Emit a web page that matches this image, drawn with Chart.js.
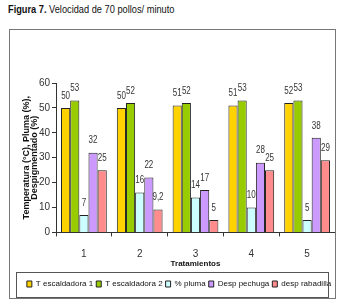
<!DOCTYPE html>
<html>
<head>
<meta charset="utf-8">
<script src="https://cdn.jsdelivr.net/npm/chart.js@4"></script>
<style>
  body { margin: 0; background: #fff; font-family: "Liberation Sans", sans-serif; }
  #title { position: absolute; left: 8px; top: 3px; font-size: 11px; color: #111; white-space: nowrap; transform: scaleX(0.84); transform-origin: left top; }
  #box { position: absolute; left: 9px; top: 29px; width: 325px; height: 268px; border: 1px solid #777; }
  #wrap { position: relative; width: 325px; height: 268px; }
</style>
</head>
<body>
<div id="title"><b>Figura 7.</b> Velocidad de 70 pollos/ minuto</div>
<div id="box"><div id="wrap"><canvas id="myChart"></canvas></div></div>
<script>
const categories = ['1', '2', '3', '4', '5'];
const seriesNames = ['T escaldadora 1', 'T escaldadora 2', '% pluma', 'Desp pechuga', 'desp rabadilla'];
const tEscaldadora1 = [50, 50, 51, 51, 52];
const tEscaldadora2 = [53, 52, 52, 53, 53];
const pluma = [7, 16, 14, 10, 5];
const despPechuga = [32, 22, 17, 28, 38];
const despRabadilla = [25, 9.2, 5, 25, 29];
const yTicks = [0, 10, 20, 30, 40, 50, 60];

const FONT = '"Liberation Sans", sans-serif';
const fills = ['#FFD200', '#99CC00', '#CCFFFF', '#CC99FF', '#FF8C8C'];

// value labels above bars (squeezed to look like a narrow face), plus the legend frame
const extras = {
    id: 'extras',
    afterDatasetsDraw(chart) {
        const ctx = chart.ctx;
        ctx.save();
        ctx.font = '10px ' + FONT;
        ctx.fillStyle = '#333';
        ctx.textAlign = 'center';
        ctx.textBaseline = 'middle';
        chart.data.datasets.forEach((ds, i) => {
            chart.getDatasetMeta(i).data.forEach((bar, j) => {
                const txt = String(ds.data[j]).replace('.', ',');
                ctx.save();
                ctx.translate(bar.x, bar.y - 12);
                ctx.scale(0.8, 1);
                ctx.fillText(txt, 0, 0);
                ctx.restore();
            });
        });
        ctx.restore();
    },
    afterDraw(chart) {
        const ctx = chart.ctx;
        ctx.save();
        ctx.strokeStyle = '#555';
        ctx.lineWidth = 1;
        ctx.strokeRect(6.5, 242.5, 312, 25);
        ctx.restore();
    }
};

new Chart(document.getElementById('myChart').getContext('2d'), {
    type: 'bar',
    data: {
        labels: categories,
        datasets: [tEscaldadora1, tEscaldadora2, pluma, despPechuga, despRabadilla].map((d, i) => ({
            label: seriesNames[i],
            data: d,
            backgroundColor: fills[i],
            borderColor: '#222',
            borderWidth: 1,
            categoryPercentage: 0.82,
            barPercentage: 1
        }))
    },
    options: {
        responsive: true,
        maintainAspectRatio: false,
        animation: false,
        layout: { padding: { top: 53, right: 0, left: 13, bottom: 0 } },
        scales: {
            x: {
                grid: { drawOnChartArea: false, drawTicks: true, tickLength: 4, color: '#333' },
                border: { color: '#333' },
                ticks: { color: '#333', font: { family: FONT, size: 10 }, padding: 12 },
                title: { display: true, text: 'Tratamientos', color: '#111', font: { family: FONT, size: 8, weight: 'bold' }, padding: { top: -13, bottom: 8 } }
            },
            y: {
                min: 0, max: 60,
                afterBuildTicks(axis) { axis.ticks = yTicks.map(v => ({ value: v })); },
                afterFit(axis) { axis.width = 33; },
                grid: { drawOnChartArea: false, drawTicks: true, tickLength: 4, color: '#333' },
                border: { color: '#333' },
                ticks: { color: '#333', font: { family: FONT, size: 10 }, padding: 2 },
                title: { display: true, text: ['Temperatura (°C), Pluma (%),', 'Despigmentado (%)'], color: '#111', font: { family: FONT, size: 9, weight: 'bold', lineHeight: 0.85 }, padding: 0 }
            }
        },
        plugins: {
            legend: {
                position: 'bottom',
                labels: {
                    color: '#111',
                    font: { family: FONT, size: 8 },
                    boxWidth: 5,
                    boxHeight: 6,
                    padding: 3
                }
            },
            tooltip: { enabled: false }
        }
    },
    plugins: [extras]
});
</script>
</body>
</html>
